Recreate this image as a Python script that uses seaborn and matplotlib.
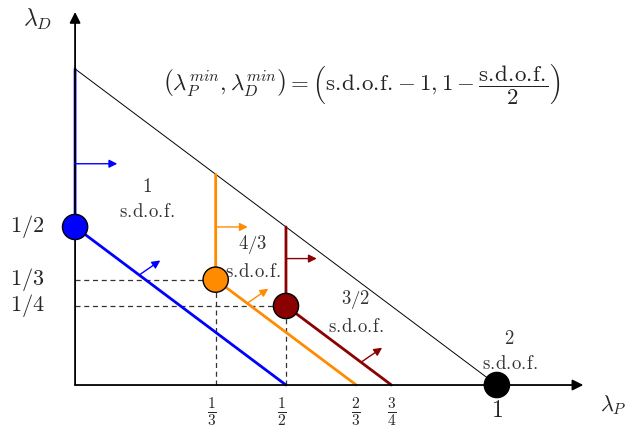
import matplotlib
matplotlib.use("Agg")
import matplotlib.pyplot as plt
import seaborn as sns
import pandas as pd

# -----------------------------
# Data
# -----------------------------
sdof_labels = ["1", "4/3", "3/2", "2"]
corner_p = [0, 1/3, 1/2, 1]          # lambda_P^min = s.d.o.f. - 1
corner_d = [1/2, 1/3, 1/4, 0]        # lambda_D^min = 1 - s.d.o.f./2
region_colors = ["#0000ff", "#ff8c00", "#8b0000", "black"]

# where each slanted boundary meets the lambda_P axis
p_intercepts = [1/2, 2/3, 3/4]
# top of each vertical boundary (on the line lambda_P + lambda_D = 1)
d_tops = [1, 2/3, 1/2]

# horizontal "feasible side" arrows: (y, length)
h_arrow_y = [0.70, 0.50, 0.40]
h_arrow_len = [0.10, 0.076, 0.073]
# diagonal arrows: tail x on the slanted line
d_arrow_x = [0.152, 0.408, 0.678]

label_pos = [(0.171, 0.587), (0.422, 0.404), (0.666, 0.23), (1.03, 0.105)]

x_ticks = [1/3, 1/2, 2/3, 3/4]
x_tick_labels = [r"$\frac{1}{3}$", r"$\frac{1}{2}$", r"$\frac{2}{3}$", r"$\frac{3}{4}$"]
y_ticks = [1/2, 1/3, 1/4]
y_tick_labels = [r"$1/2$", r"$1/3$", r"$1/4$"]

SDOF = r"\mathrm{s.\!d.\!o.\!f.\!}"

# -----------------------------
# Style
# -----------------------------
sns.set_theme(style="white")
plt.rcParams["mathtext.fontset"] = "cm"
plt.rcParams["font.family"] = ["DejaVu Serif"]

fig = plt.figure(figsize=(6.31, 4.28), dpi=100)
ax = fig.add_axes([0, 0, 1, 1])
ax.set_xlim(-0.178, 1.318)
ax.set_ylim(-0.136, 1.218)
ax.axis("off")

# axes with arrow heads
ax.annotate("", xy=(1.205, 0), xytext=(0, 0),
            arrowprops=dict(arrowstyle="-|>", color="black", lw=1.3, mutation_scale=16, shrinkA=0, shrinkB=0))
ax.annotate("", xy=(0, 1.18), xytext=(0, 0),
            arrowprops=dict(arrowstyle="-|>", color="black", lw=1.3, mutation_scale=16, shrinkA=0, shrinkB=0))

# outer line lambda_P + lambda_D = 1
outer = pd.DataFrame({"p": [0, 1], "d": [1, 0]})
sns.lineplot(data=outer, x="p", y="d", color="black", lw=0.7, ax=ax, sort=False, estimator=None)

# dashed guides
for p, d in zip(corner_p[1:3], corner_d[1:3]):
    ax.plot([0, p], [d, d], ls=(0, (4, 3)), color="#333333", lw=0.9)
    ax.plot([p, p], [0, d], ls=(0, (4, 3)), color="#333333", lw=0.9)

# region boundaries
for i in range(3):
    seg = pd.DataFrame({
        "p": [corner_p[i], corner_p[i], p_intercepts[i]],
        "d": [d_tops[i], corner_d[i], 0],
    })
    sns.lineplot(data=seg, x="p", y="d", color=region_colors[i], lw=2.0, ax=ax,
                 sort=False, estimator=None)

    # arrow pointing right from vertical boundary
    ax.annotate("", xy=(corner_p[i] + h_arrow_len[i], h_arrow_y[i]), xytext=(corner_p[i], h_arrow_y[i]),
                arrowprops=dict(arrowstyle="-|>", color=region_colors[i], lw=1.0, mutation_scale=12,
                                shrinkA=0, shrinkB=0))
    # arrow pointing away from slanted boundary
    tx = d_arrow_x[i]
    ty = corner_d[i] - (tx - corner_p[i])
    ax.annotate("", xy=(tx + 0.05, ty + 0.046), xytext=(tx, ty),
                arrowprops=dict(arrowstyle="-|>", color=region_colors[i], lw=1.0, mutation_scale=12,
                                shrinkA=0, shrinkB=0))

# corner points
pts = pd.DataFrame({"p": corner_p, "d": corner_d, "c": sdof_labels})
sns.scatterplot(data=pts, x="p", y="d", hue="c", palette=region_colors, s=330,
                edgecolor="black", linewidth=1.0, legend=False, ax=ax, zorder=5)

# region labels
for lab, (x, y) in zip(sdof_labels, label_pos):
    ax.text(x, y, r"$%s$" % lab + "\n" + r"$%s$" % SDOF, ha="center", va="center",
            fontsize=13.5, color="#333333", linespacing=1.5)

# formula
ax.text(0.68, 0.95,
        r"$\left(\lambda_P^{min},\lambda_D^{min}\right)=\left(" + SDOF + r"-1,1-\dfrac{" + SDOF + r"}{2}\right)$",
        ha="center", va="center", fontsize=16.5, color="#222222")

# ticks
for x, lab in zip(x_ticks, x_tick_labels):
    ax.text(x - 0.01 if x < 0.6 else x, -0.085, lab, ha="center", va="center", fontsize=16)
ax.text(1.0, -0.08, r"$1$", ha="center", va="center", fontsize=17)
for y, lab in zip(y_ticks, y_tick_labels):
    ax.text(-0.072, y, lab, ha="right", va="center", fontsize=16)

# axis labels
ax.text(-0.09, 1.155, r"$\lambda_D$", ha="center", va="center", fontsize=17)
ax.text(1.275, -0.063, r"$\lambda_P$", ha="center", va="center", fontsize=16)

fig.savefig("out.png", dpi=100)
